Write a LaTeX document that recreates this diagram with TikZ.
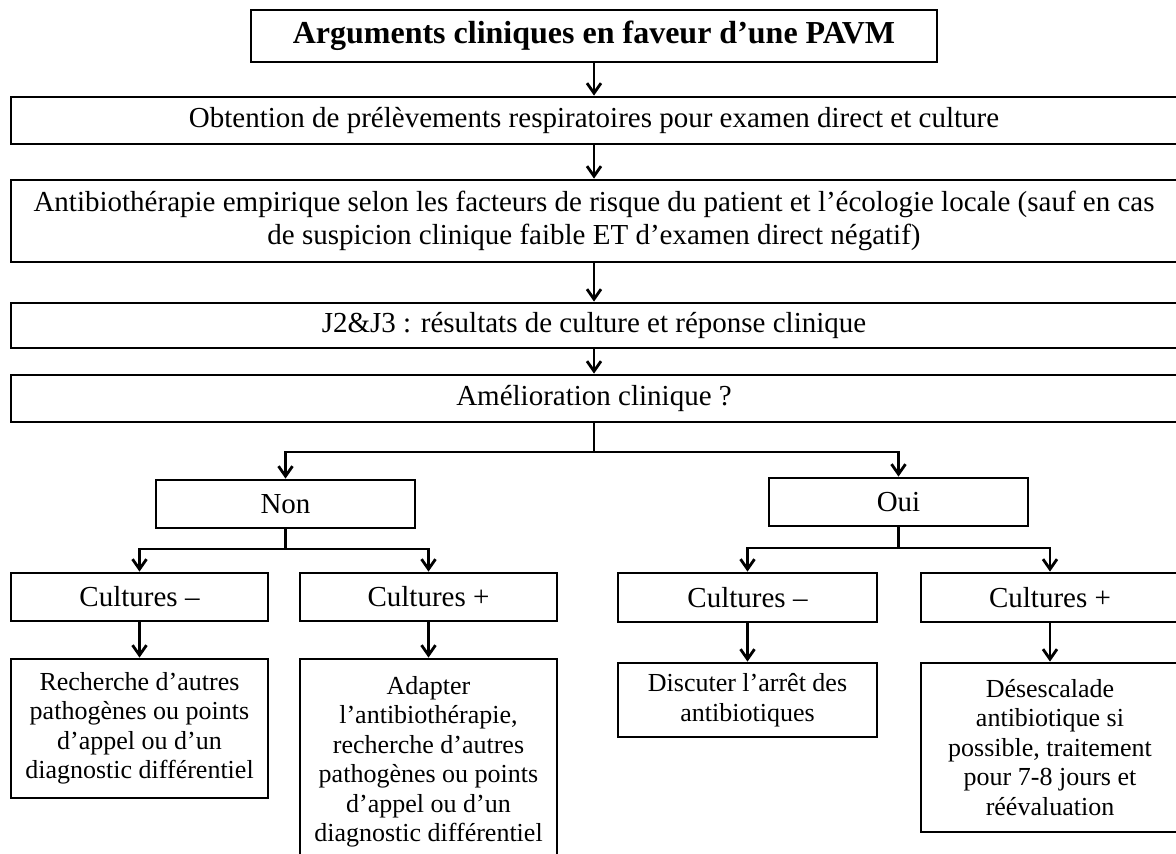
\documentclass[tikz,border=0pt]{standalone}
\usepackage{fontspec}
\setmainfont{Liberation Serif}
\usetikzlibrary{arrows.meta}
\begin{document}
\begin{tikzpicture}[x=1pt,y=-1pt,
  box/.style={draw, line width=2.8pt, inner sep=0pt, align=center, font=\fontsize{29}{33}\selectfont},
  smallbox/.style={box, font=\fontsize{26}{29.5}\selectfont},
  arr/.style={line width=2.8pt, -{Straight Barb[length=10pt,width=14pt]}},
  ln/.style={line width=2.8pt}]
\useasboundingbox (0,0) rectangle (1176,854);
\clip (0,0) rectangle (1176,854);
% top chain
\node[box, minimum width=686pt, minimum height=52pt, font=\fontsize{32}{36}\selectfont\bfseries] (title) at (594,36) {Arguments cliniques en faveur d’une PAVM};
\node[box, minimum width=1166pt, minimum height=47pt] (obt) at (594,120.5) {Obtention de prélèvements respiratoires pour examen direct et culture};
\node[box, minimum width=1166pt, minimum height=82pt] (anti) at (594,221) {Antibiothérapie empirique selon les facteurs de risque du patient et l’écologie locale (sauf en cas\\de suspicion clinique faible ET d’examen direct négatif)};
\node[box, minimum width=1166pt, minimum height=45pt] (j2) at (594,325.5) {J2\&J3 : résultats de culture et réponse clinique};
\node[box, minimum width=1166pt, minimum height=47pt] (amel) at (594,398.5) {Amélioration clinique ?};
% second level
\node[box, minimum width=259pt, minimum height=48pt] (non) at (285.5,504) {Non};
\node[box, minimum width=259pt, minimum height=48pt] (oui) at (898.5,502) {Oui};
% third level
\node[box, minimum width=257pt, minimum height=48pt] (cmL) at (139.5,597) {Cultures –};
\node[box, minimum width=257pt, minimum height=48pt] (cpL) at (428.5,597) {Cultures +};
\node[box, minimum width=259pt, minimum height=49pt] (cmR) at (747.5,597.5) {Cultures –};
\node[box, minimum width=258pt, minimum height=49pt] (cpR) at (1050,597.5) {Cultures +};
% bottom level
\node[smallbox, minimum width=257pt, minimum height=139pt] (rech) at (139.5,728.5) {Recherche d’autres\\pathogènes ou points\\d’appel ou d’un\\diagnostic différentiel};
\node[smallbox, minimum width=257pt, minimum height=206pt] (adapt) at (428.5,762) {Adapter\\l’antibiothérapie,\\recherche d’autres\\pathogènes ou points\\d’appel ou d’un\\diagnostic différentiel};
\node[smallbox, minimum width=259pt, minimum height=74pt] (disc) at (747.5,700) {Discuter l’arrêt des\\antibiotiques};
\node[smallbox, minimum width=258pt, minimum height=169pt] (des) at (1050,747.5) {Désescalade\\antibiotique si\\possible, traitement\\pour 7-8 jours et\\réévaluation};
% connectors
\draw[arr] (title.south) -- (obt.north);
\draw[arr] (obt.south) -- (anti.north);
\draw[arr] (anti.south) -- (j2.north);
\draw[arr] (j2.south) -- (amel.north);
\coordinate (s1) at (594,452);
\draw[ln] (amel.south) -- (s1);
\draw[arr] (s1) -| (non.north);
\draw[arr] (s1) -| (oui.north);
\coordinate (s2) at (285.5,549);
\draw[ln] (non.south) -- (s2);
\draw[arr] (s2) -| (cmL.north);
\draw[arr] (s2) -| (cpL.north);
\coordinate (s3) at (898.5,548);
\draw[ln] (oui.south) -- (s3);
\draw[arr] (s3) -| (cmR.north);
\draw[arr] (s3) -| (cpR.north);
\draw[arr] (cmL.south) -- (rech.north);
\draw[arr] (cpL.south) -- (adapt.north);
\draw[arr] (cmR.south) -- (disc.north);
\draw[arr] (cpR.south) -- (des.north);
\end{tikzpicture}
\end{document}
